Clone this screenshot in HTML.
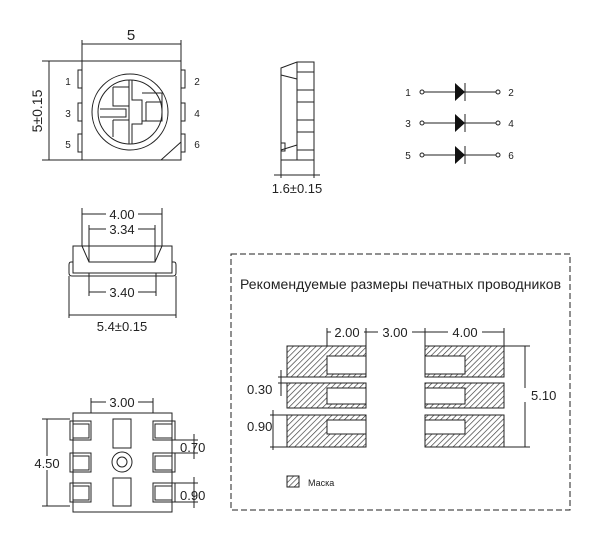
<!DOCTYPE html>
<html><head><meta charset="utf-8"><style>
html,body{margin:0;padding:0;background:#fff}
svg{display:block}
text{font-family:"Liberation Sans",sans-serif;fill:#222}
</style></head><body>
<svg width="600" height="535" viewBox="0 0 600 535" xmlns="http://www.w3.org/2000/svg">
<defs>
<pattern id="h" patternUnits="userSpaceOnUse" width="4" height="4" patternTransform="rotate(45)">
<rect width="4" height="4" fill="#fff"/><line x1="0" y1="0" x2="0" y2="4" stroke="#333" stroke-width="1.3"/>
</pattern>
</defs>
<g fill="none" stroke="#222" stroke-width="1">
<rect x="82" y="61" width="99" height="99"/>
<line x1="82" y1="40" x2="82" y2="61"/><line x1="181" y1="40" x2="181" y2="61"/>
<line x1="82" y1="44" x2="181" y2="44"/>
<line x1="42" y1="61" x2="82" y2="61"/><line x1="42" y1="160" x2="82" y2="160"/>
<line x1="49" y1="61" x2="49" y2="160"/>
<rect x="78" y="70" width="4" height="18"/><rect x="78" y="103" width="4" height="18"/><rect x="78" y="134" width="4" height="18"/>
<rect x="181" y="70" width="4" height="18"/><rect x="181" y="103" width="4" height="18"/><rect x="181" y="134" width="4" height="18"/>
<line x1="161" y1="160" x2="181" y2="142"/>
<circle cx="130" cy="112" r="38"/><circle cx="130" cy="112" r="32"/>
<path d="M129 80V144M132 80V100H142V124H132V144"/>
<path d="M113 87H129M113 87V106H129M100 109H126V117H100M113 120H129M113 120V137"/>
<path d="M142 93H162V121H142M146 102H162M146 102V121"/>
<path d="M281 160V68L297 62H314V160H281"/>
<line x1="297" y1="62" x2="297" y2="160"/>
<rect x="297" y="72" width="17" height="18"/><rect x="297" y="102" width="17" height="18"/><rect x="297" y="132" width="17" height="18"/>
<line x1="281" y1="75" x2="297" y2="79"/><line x1="281" y1="150" x2="297" y2="145"/><rect x="281" y="143" width="4" height="8"/>
<line x1="281" y1="160" x2="281" y2="178"/><line x1="314" y1="160" x2="314" y2="178"/>
<line x1="274" y1="175" x2="320" y2="175"/>
<g>
<line x1="424" y1="92" x2="496" y2="92"/><line x1="424" y1="123" x2="496" y2="123"/><line x1="424" y1="155" x2="496" y2="155"/>
<circle cx="422" cy="92" r="2"/><circle cx="498" cy="92" r="2"/>
<circle cx="422" cy="123" r="2"/><circle cx="498" cy="123" r="2"/>
<circle cx="422" cy="155" r="2"/><circle cx="498" cy="155" r="2"/>
<path d="M465 83V101M465 114V132M465 146V164"/>
</g>
<line x1="82" y1="208" x2="82" y2="246"/><line x1="162" y1="208" x2="162" y2="246"/>
<line x1="82" y1="214" x2="162" y2="214"/>
<line x1="89" y1="225" x2="89" y2="262"/><line x1="155" y1="225" x2="155" y2="262"/>
<line x1="89" y1="229" x2="155" y2="229"/>
<rect x="73" y="246" width="99" height="27"/>
<path d="M82 246L89 262H155L162 246"/>
<path d="M73 262H71Q69 262 69 265V273Q69 276 72 276H173Q176 276 176 273V265Q176 262 174 262H172"/>
<line x1="89" y1="273" x2="89" y2="296"/><line x1="156" y1="273" x2="156" y2="296"/>
<line x1="89" y1="292" x2="156" y2="292"/>
<line x1="69" y1="276" x2="69" y2="318"/><line x1="176" y1="276" x2="176" y2="318"/>
<line x1="69" y1="315" x2="176" y2="315"/>
<rect x="73" y="413" width="99" height="99"/>
<line x1="91" y1="398" x2="91" y2="413"/><line x1="153" y1="398" x2="153" y2="413"/>
<line x1="91" y1="402" x2="153" y2="402"/>
<rect x="70" y="421" width="21" height="19"/><rect x="70" y="453" width="21" height="19"/><rect x="70" y="483" width="21" height="19"/>
<rect x="73" y="424" width="16" height="14"/><rect x="73" y="456" width="16" height="14"/><rect x="73" y="486" width="16" height="14"/>
<rect x="153" y="421" width="22" height="19"/><rect x="153" y="453" width="22" height="19"/><rect x="153" y="483" width="22" height="19"/>
<rect x="155" y="424" width="17" height="14"/><rect x="155" y="456" width="17" height="14"/><rect x="155" y="486" width="17" height="14"/>
<rect x="113" y="419" width="18" height="29"/><rect x="113" y="478" width="18" height="28"/>
<circle cx="122" cy="462" r="10"/><circle cx="122" cy="462" r="5"/>
<line x1="42" y1="419" x2="70" y2="419"/><line x1="42" y1="506" x2="70" y2="506"/>
<line x1="47" y1="419" x2="47" y2="506"/>
<line x1="175" y1="440" x2="198" y2="440"/><line x1="175" y1="453" x2="198" y2="453"/>
<line x1="194" y1="434" x2="194" y2="459"/>
<line x1="175" y1="483" x2="198" y2="483"/><line x1="175" y1="502" x2="198" y2="502"/>
<line x1="194" y1="477" x2="194" y2="508"/>
<rect x="231" y="254" width="339" height="256" stroke-dasharray="6,3"/>
</g>
<g fill="#111">
<path d="M455 83L465 92L455 101Z"/><path d="M455 114L465 123L455 132Z"/><path d="M455 146L465 155L455 164Z"/>
</g>
<g stroke="#222" stroke-width="1">
<rect x="287" y="346" width="79" height="31" fill="url(#h)"/>
<rect x="287" y="383" width="79" height="25" fill="url(#h)"/>
<rect x="287" y="415" width="79" height="32" fill="url(#h)"/>
<rect x="327" y="356" width="39" height="18" fill="#fff"/>
<rect x="327" y="388" width="39" height="16" fill="#fff"/>
<rect x="327" y="420" width="39" height="14" fill="#fff"/>
<rect x="425" y="346" width="79" height="31" fill="url(#h)"/>
<rect x="425" y="383" width="79" height="25" fill="url(#h)"/>
<rect x="425" y="415" width="79" height="32" fill="url(#h)"/>
<rect x="425" y="356" width="40" height="18" fill="#fff"/>
<rect x="425" y="388" width="40" height="16" fill="#fff"/>
<rect x="425" y="420" width="40" height="14" fill="#fff"/>
<rect x="287" y="476" width="12" height="11" fill="url(#h)"/>
</g>
<g fill="none" stroke="#222" stroke-width="1">
<line x1="327" y1="328" x2="327" y2="346"/><line x1="366" y1="328" x2="366" y2="346"/>
<line x1="425" y1="328" x2="425" y2="346"/><line x1="504" y1="328" x2="504" y2="346"/>
<line x1="327" y1="332" x2="504" y2="332"/>
<line x1="504" y1="346" x2="530" y2="346"/><line x1="504" y1="447" x2="530" y2="447"/>
<line x1="525" y1="346" x2="525" y2="447"/>
<line x1="278" y1="377" x2="287" y2="377"/><line x1="278" y1="383" x2="287" y2="383"/>
<line x1="281" y1="370" x2="281" y2="396"/>
<line x1="270" y1="415" x2="287" y2="415"/><line x1="270" y1="447" x2="287" y2="447"/>
<line x1="273" y1="410" x2="273" y2="450"/>
</g>
<g font-size="13">
<rect x="120" y="28" width="22" height="14" fill="#fff"/>
<text x="131" y="40" text-anchor="middle" font-size="15">5</text>
<text transform="translate(42,111) rotate(-90)" text-anchor="middle" font-size="14">5±0.15</text>
<text x="297" y="193" text-anchor="middle">1.6±0.15</text>
<g font-size="10">
<text x="68" y="85" text-anchor="middle">1</text><text x="68" y="117" text-anchor="middle">3</text><text x="68" y="148" text-anchor="middle">5</text>
<text x="197" y="85" text-anchor="middle">2</text><text x="197" y="117" text-anchor="middle">4</text><text x="197" y="148" text-anchor="middle">6</text>
<text x="408" y="96" text-anchor="middle">1</text><text x="408" y="127" text-anchor="middle">3</text><text x="408" y="159" text-anchor="middle">5</text>
<text x="511" y="96" text-anchor="middle">2</text><text x="511" y="127" text-anchor="middle">4</text><text x="511" y="159" text-anchor="middle">6</text>
</g>
<g>
<rect x="106" y="207" width="32" height="14" fill="#fff"/><text x="122" y="219" text-anchor="middle">4.00</text>
<rect x="106" y="222" width="32" height="14" fill="#fff"/><text x="122" y="234" text-anchor="middle">3.34</text>
<rect x="106" y="285" width="32" height="14" fill="#fff"/><text x="122" y="297" text-anchor="middle">3.40</text>
<text x="122" y="331" text-anchor="middle">5.4±0.15</text>
<rect x="106" y="395" width="32" height="14" fill="#fff"/><text x="122" y="407" text-anchor="middle">3.00</text>
<rect x="30" y="456" width="32" height="14" fill="#fff"/><text x="47" y="468" text-anchor="middle">4.50</text>
<text x="180" y="452">0.70</text>
<text x="180" y="500">0.90</text>
</g>
<text x="240" y="289" font-size="14" textLength="321">Рекомендуемые размеры печатных проводников</text>
<rect x="331" y="325" width="33" height="14" fill="#fff"/><text x="347" y="337" text-anchor="middle">2.00</text>
<rect x="378" y="325" width="34" height="14" fill="#fff"/><text x="395" y="337" text-anchor="middle">3.00</text>
<rect x="448" y="325" width="34" height="14" fill="#fff"/><text x="465" y="337" text-anchor="middle">4.00</text>
<rect x="516" y="388" width="26" height="14" fill="#fff"/><text x="531" y="400">5.10</text>
<text x="247" y="394">0.30</text>
<text x="247" y="431">0.90</text>
<text x="308" y="486" font-size="9">Маска</text>
</g>
</svg>
</body></html>
